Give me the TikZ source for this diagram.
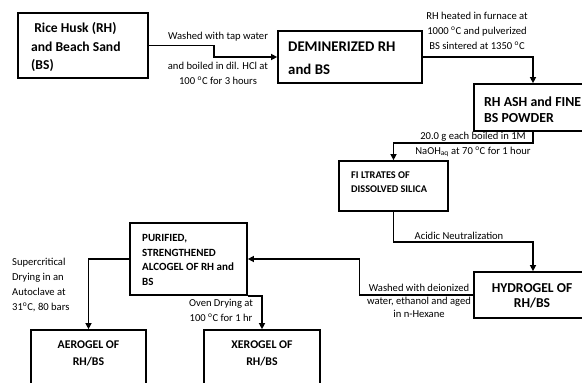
\documentclass[tikz,border=0pt]{standalone}
\usepackage{fontspec}
\setmainfont{Carlito}
\usetikzlibrary{arrows.meta}
\begin{document}
\begin{tikzpicture}[x=1pt,y=-1pt,
  box/.style={draw, line width=1.7pt, inner sep=0pt},
  bigtxt/.style={font=\bfseries\fontsize{13.6}{18.5}\selectfont, align=left, inner sep=0pt},
  midtxt/.style={font=\bfseries\fontsize{11}{14.5}\selectfont, inner sep=0pt},
  lab/.style={font=\fontsize{10.6}{15}\selectfont, align=center, inner sep=0pt},
  arr/.style={line width=1.3pt, -{Triangle[length=6pt,width=6pt]}},
  ln/.style={line width=1.3pt}]
\clip (0,0) rectangle (582,383);
% boxes
\node[box, minimum width=130pt, minimum height=65pt] (rh) at (83,45.5) {};
\node[box, minimum width=144pt, minimum height=52pt] (dem) at (350,57) {};
\node[box, minimum width=118pt, minimum height=47pt] (ash) at (533,107.5) {};
\node[box, minimum width=109pt, minimum height=50pt] (fil) at (393.5,186) {};
\node[box, minimum width=118pt, minimum height=46pt] (hyd) at (533,295) {};
\node[box, minimum width=117pt, minimum height=72pt] (pur) at (188.5,259) {};
\node[box, minimum width=115pt, minimum height=60pt] (aer) at (88.5,360) {};
\node[box, minimum width=116pt, minimum height=60pt] (xer) at (262,360) {};
% box texts
\node[bigtxt, anchor=west] (rht) at (31,47) {\ Rice Husk (RH)\\and Beach Sand\\(BS)};
\node[bigtxt, anchor=west, font=\bfseries\fontsize{14.8}{23}\selectfont] (demt) at (288,58.5) {DEMINERIZED RH\\and BS};
\node[bigtxt, anchor=west, font=\bfseries\fontsize{13.8}{15.5}\selectfont] (asht) at (484,109.5) {RH ASH and FINE\\BS POWDER};
\node[midtxt, align=left, anchor=west, font=\bfseries\fontsize{10.3}{14}\selectfont] (filt) at (351,182) {FI LTRATES OF\\DISSOLVED SILICA};
\node[midtxt, align=left, anchor=west] (purt) at (142,260) {PURIFIED,\\STRENGTHENED\\ALCOGEL OF RH and\\BS};
\node[midtxt, align=center, font=\bfseries\fontsize{13.6}{14.5}\selectfont] (hydt) at (532,296) {HYDROGEL OF\\RH/BS};
\node[midtxt, align=center, font=\bfseries\fontsize{11.8}{17}\selectfont] (aert) at (88.5,353.5) {AEROGEL OF\\RH/BS};
\node[midtxt, align=center, font=\bfseries\fontsize{11.8}{17}\selectfont] (xert) at (262,353.5) {XEROGEL OF\\RH/BS};
% connectors
\draw[arr] (rh.east) -- ++(65,0) |- (dem.west);
\draw[arr] (dem.east) -| (ash.north);
\draw[arr] (ash.south) -- ++(0,11) -| (fil.north);
\draw[arr] (fil.south) -- ++(0,30) -| (hyd.north);
\draw[arr] (hyd.west) -- ++(-114,0) |- (pur.east);
\draw[arr] (pur.west) -| (aer.north);
\draw[arr] (pur.south east) -| (xer.north);
% labels
\node[lab] (l1) at (218,37) {Washed with tap water};
\node[lab] (l2) at (218,73.5) {and boiled in dil. HCl at\\100 \textsuperscript{o}C for 3 hours};
\node[lab] (l3) at (477,31) {RH heated in furnace at\\1000 \textsuperscript{o}C and pulverized\\BS sintered at 1350 \textsuperscript{o}C};
\node[lab] (l4) at (473,144.5) {20.0 g each boiled in 1M\\NaOH\textsubscript{aq} at 70 \textsuperscript{o}C for 1 hour};
\node[lab] (l5) at (459,236) {Acidic Neutralization};
\node[lab, font=\fontsize{10.6}{13}\selectfont] (l6) at (419,301) {Washed with deionized\\water, ethanol and aged\\in n-Hexane};
\node[lab, align=left, anchor=west, font=\fontsize{10.6}{15.3}\selectfont] (l7) at (12,285) {Supercritical\\Drying in an\\Autoclave at\\31\textsuperscript{o}C, 80 bars};
\node[lab] (l8) at (221,310.5) {Oven Drying at\\100 \textsuperscript{o}C for 1 hr};
\end{tikzpicture}
\end{document}
